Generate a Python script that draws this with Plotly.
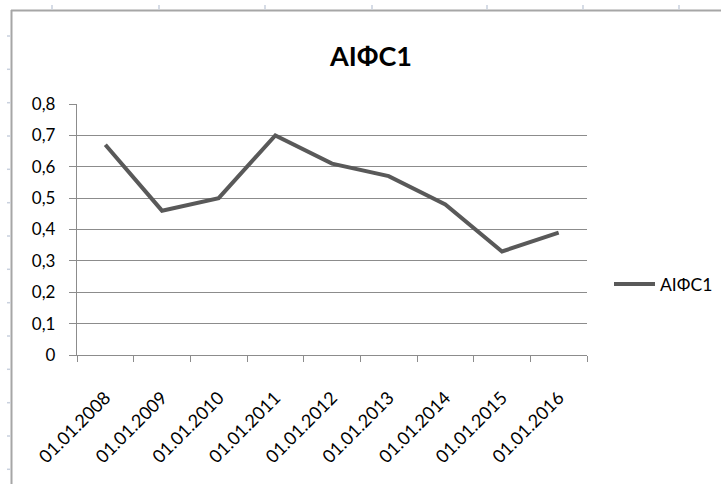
import plotly.graph_objects as go

# Series data
dates = ["01.01.2008", "01.01.2009", "01.01.2010", "01.01.2011", "01.01.2012",
         "01.01.2013", "01.01.2014", "01.01.2015", "01.01.2016"]
aifs1 = [0.67, 0.46, 0.50, 0.70, 0.61, 0.57, 0.48, 0.33, 0.39]
series_name = "AIФC1"

y_tickvals = [0, 0.1, 0.2, 0.3, 0.4, 0.5, 0.6, 0.7, 0.8]
y_ticktext = ["0", "0,1", "0,2", "0,3", "0,4", "0,5", "0,6", "0,7", "0,8"]

W, H = 721, 484
ML, MR, MT, MB = 77, 134, 104, 129
PW, PH = W - ML - MR, H - MT - MB

FONT = "Lato, Carlito, Calibri, 'Open Sans', sans-serif"


def px_x(x):
    return (x - ML) / PW


def px_y(y):
    return (H - MB - y) / PH


fig = go.Figure()
fig.add_trace(go.Scatter(
    x=dates, y=aifs1, mode="lines", name=series_name,
    line=dict(color="#595959", width=4),
))

# Worksheet frame around the chart object
shapes = [
    dict(type="line", xref="paper", yref="paper",
         x0=px_x(11), x1=px_x(W), y0=px_y(10.5), y1=px_y(10.5),
         line=dict(color="#a6a6a6", width=2)),
    dict(type="line", xref="paper", yref="paper",
         x0=px_x(11.5), x1=px_x(11.5), y0=px_y(10), y1=px_y(H),
         line=dict(color="#a6a6a6", width=2)),
]
for cx in [52, 159, 265, 372, 487, 583, 679]:
    shapes.append(dict(type="line", xref="paper", yref="paper",
                       x0=px_x(cx), x1=px_x(cx), y0=px_y(5), y1=px_y(9.5),
                       line=dict(color="#c9d1de", width=1.5)))
for ry in [36, 69.3, 102.7, 136, 169.3, 202.7, 236, 269.3, 302.7, 336,
           369.3, 402.7, 436, 469.3]:
    shapes.append(dict(type="line", xref="paper", yref="paper",
                       x0=px_x(7), x1=px_x(10.5), y0=px_y(ry), y1=px_y(ry),
                       line=dict(color="#c9d1de", width=1.5)))

fig.update_layout(
    width=W, height=H,
    margin=dict(l=ML, r=MR, t=MT, b=MB, autoexpand=False),
    paper_bgcolor="white", plot_bgcolor="white",
    font=dict(family=FONT, color="#000000", size=17),
    title=dict(text="<b>AIФC1</b>", x=371 / W, xanchor="center",
               y=1 - 57 / H, yanchor="middle",
               font=dict(family=FONT, size=27, color="#000000")),
    showlegend=True,
    legend=dict(x=px_x(609), xanchor="left", y=px_y(284), yanchor="middle",
                font=dict(family=FONT, size=17.5, color="#000000"),
                bgcolor="rgba(0,0,0,0)", itemwidth=41),
    xaxis=dict(
        type="category", tickson="boundaries",
        ticks="outside", ticklen=6, tickcolor="#8c8c8c", tickwidth=1.3,
        showline=True, linecolor="#8c8c8c", linewidth=1.3,
        showgrid=False, tickangle=-45, ticklabelstandoff=24,
        tickfont=dict(family=FONT, size=18, color="#000000"),
        range=[-0.5, len(dates) - 0.5], automargin=False,
    ),
    yaxis=dict(
        range=[0, 0.8], tickvals=y_tickvals, ticktext=y_ticktext,
        ticks="outside", ticklen=7, tickcolor="#8c8c8c", tickwidth=1.3,
        showline=True, linecolor="#8c8c8c", linewidth=1.3,
        showgrid=True, gridcolor="#8c8c8c", gridwidth=1.3,
        zeroline=False, ticklabelstandoff=10, automargin=False,
        tickfont=dict(family=FONT, size=17, color="#000000"),
    ),
    shapes=shapes,
)

fig.write_html("out.html")
